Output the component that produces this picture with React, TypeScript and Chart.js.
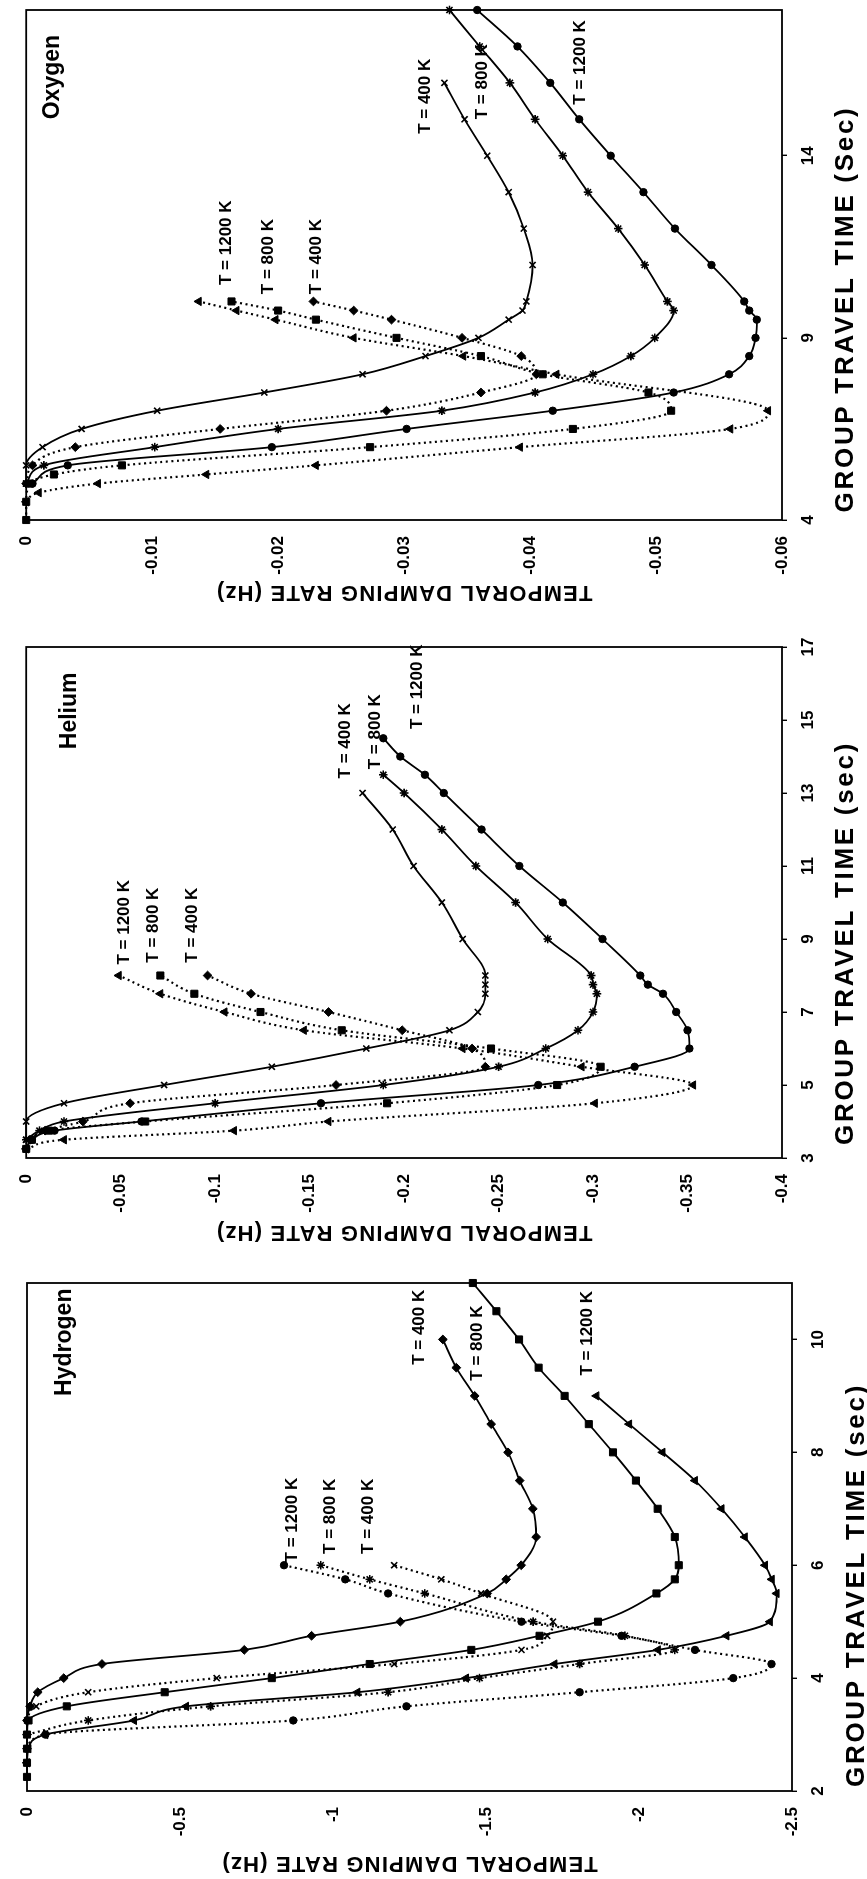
import React, { useEffect, useRef } from "react";
import { Chart, registerables } from "chart.js";
Chart.register(...registerables);

type Pt = [number, number];

// ---------------- Hydrogen ----------------
const hXTicks = [2, 4, 6, 8, 10];
const hYTicks = [0, -0.5, -1, -1.5, -2, -2.5];
const hSolid400: Pt[] = [[2.75, 0], [3, 0], [3.25, 0], [3.5, -0.01], [3.75, -0.035], [4, -0.12], [4.25, -0.245], [4.5, -0.71], [4.75, -0.93], [5, -1.22], [5.5, -1.504], [5.75, -1.566], [6, -1.615], [6.5, -1.664], [7, -1.653], [7.5, -1.61], [8, -1.572], [8.5, -1.517], [9, -1.463], [9.5, -1.403], [10, -1.359]];
const hSolid800: Pt[] = [[2.25, 0], [2.5, 0], [2.75, 0], [3, 0], [3.25, -0.005], [3.5, -0.13], [3.75, -0.45], [4, -0.8], [4.25, -1.12], [4.5, -1.452], [4.75, -1.675], [5, -1.866], [5.5, -2.057], [5.75, -2.117], [6, -2.13], [6.5, -2.117], [7, -2.061], [7.5, -1.99], [8, -1.915], [8.5, -1.836], [9, -1.757], [9.5, -1.672], [10, -1.608], [10.5, -1.534], [11, -1.457]];
const hSolid1200: Pt[] = [[2.5, 0], [2.75, -0.005], [3, -0.06], [3.25, -0.35], [3.5, -0.52], [3.75, -1.08], [4, -1.435], [4.25, -1.724], [4.5, -2.062], [4.75, -2.286], [5, -2.428], [5.5, -2.45], [5.75, -2.434], [6, -2.412], [6.5, -2.346], [7, -2.27], [7.5, -2.183], [8, -2.077], [8.5, -1.968], [9, -1.861]];
const hDot400: Pt[] = [[3.25, 0], [3.5, -0.03], [3.75, -0.2], [4, -0.62], [4.25, -1.2], [4.5, -1.616], [4.75, -1.7], [5, -1.719], [5.5, -1.484], [5.75, -1.354], [6, -1.2]];
const hDot800: Pt[] = [[3, 0], [3.25, -0.2], [3.5, -0.6], [3.75, -1.18], [4, -1.479], [4.25, -1.806], [4.5, -2.117], [4.75, -1.954], [5, -1.654], [5.5, -1.3], [5.75, -1.12], [6, -0.96]];
const hDot1200: Pt[] = [[2.75, 0], [3, -0.06], [3.25, -0.87], [3.5, -1.24], [3.75, -1.806], [4, -2.308], [4.25, -2.433], [4.5, -2.183], [4.75, -1.943], [5, -1.616], [5.5, -1.18], [5.75, -1.04], [6, -0.84]];
// label anchors (start x, centre y): solid 400/800/1200, dotted 400/800/1200
const hLabelAt: Pt[] = [[9.55, -1.283], [9.27, -1.47], [9.36, -1.83], [6.2, -1.116], [6.2, -0.99], [6.05, -0.867]];
const hNameAt: Pt = [9.0, -0.124];

// ---------------- Helium ----------------
const heXTicks = [3, 5, 7, 9, 11, 13, 15, 17];
const heYTicks = [0, -0.05, -0.1, -0.15, -0.2, -0.25, -0.3, -0.35, -0.4];
const heSolid400: Pt[] = [[3.5, 0], [4, 0], [4.5, -0.02], [5, -0.073], [5.5, -0.13], [6, -0.18], [6.5, -0.224], [7, -0.239], [7.5, -0.243], [7.75, -0.243], [8, -0.243], [9, -0.231], [10, -0.22], [11, -0.205], [12, -0.194], [13, -0.178]];
const heSolid800: Pt[] = [[3.5, 0], [3.75, -0.007], [4, -0.02], [4.5, -0.1], [5, -0.189], [5.5, -0.25], [6, -0.275], [6.5, -0.292], [7, -0.3], [7.5, -0.302], [7.75, -0.3], [8, -0.299], [9, -0.276], [10, -0.259], [11, -0.238], [12, -0.22], [13, -0.2], [13.5, -0.189]];
const heSolid1200: Pt[] = [[3.25, 0], [3.5, -0.003], [3.75, -0.015], [4, -0.061], [4.5, -0.156], [5, -0.271], [5.5, -0.322], [6, -0.351], [6.5, -0.35], [7, -0.344], [7.5, -0.337], [7.75, -0.329], [8, -0.325], [9, -0.305], [10, -0.284], [11, -0.261], [12, -0.241], [13, -0.221], [13.5, -0.211], [14, -0.198], [14.5, -0.189]];
const heDot400: Pt[] = [[3.5, -0.002], [3.75, -0.01], [4, -0.03], [4.5, -0.055], [5, -0.164], [5.5, -0.243], [6, -0.236], [6.5, -0.199], [7, -0.16], [7.5, -0.119], [8, -0.096]];
const heDot800: Pt[] = [[3.25, 0], [3.5, -0.003], [3.75, -0.012], [4, -0.063], [4.5, -0.191], [5, -0.281], [5.5, -0.304], [6, -0.246], [6.5, -0.167], [7, -0.124], [7.5, -0.089], [8, -0.071]];
const heDot1200: Pt[] = [[3.25, 0], [3.5, -0.02], [3.75, -0.11], [4, -0.16], [4.5, -0.301], [5, -0.353], [5.5, -0.294], [6, -0.231], [6.5, -0.147], [7, -0.105], [7.5, -0.071], [8, -0.049]];
const heLabelAt: Pt[] = [[13.4, -0.169], [13.65, -0.185], [14.75, -0.207], [8.35, -0.088], [8.35, -0.0675], [8.3, -0.052]];
const heNameAt: Pt = [14.2, -0.023];

// ---------------- Oxygen ----------------
const oXTicks = [4, 9, 14];
const oYTicks = [0, -0.01, -0.02, -0.03, -0.04, -0.05, -0.06];
const oSolid400: Pt[] = [[5, 0], [5.5, 0], [6, -0.0013], [6.5, -0.0044], [7, -0.0104], [7.5, -0.0189], [8, -0.0267], [8.5, -0.0317], [9, -0.0359], [9.5, -0.0383], [9.75, -0.0394], [10, -0.0397], [11, -0.0402], [12, -0.0395], [13, -0.0383], [14, -0.0366], [15, -0.0348], [16, -0.0332]];
const oSolid800: Pt[] = [[5, 0], [5.5, -0.0014], [6, -0.0102], [6.5, -0.02], [7, -0.033], [7.5, -0.0404], [8, -0.045], [8.5, -0.048], [9, -0.0499], [9.75, -0.0514], [10, -0.0509], [11, -0.0491], [12, -0.047], [13, -0.0446], [14, -0.0426], [15, -0.0404], [16, -0.0384], [17, -0.036], [18, -0.0336]];
const oSolid1200: Pt[] = [[5, -0.0005], [5.5, -0.0033], [6, -0.0195], [6.5, -0.0302], [7, -0.0418], [7.5, -0.0514], [8, -0.0558], [8.5, -0.0574], [9, -0.0579], [9.5, -0.058], [9.75, -0.0574], [10, -0.057], [11, -0.0544], [12, -0.0515], [13, -0.049], [14, -0.0464], [15, -0.0439], [16, -0.0416], [17, -0.039], [18, -0.0358]];
const oDot400: Pt[] = [[5, 0], [5.5, -0.0005], [6, -0.0039], [6.5, -0.0154], [7, -0.0286], [7.5, -0.0361], [8, -0.0405], [8.5, -0.0393], [9, -0.0346], [9.5, -0.029], [9.75, -0.026], [10, -0.0228]];
const oDot800: Pt[] = [[4, 0], [4.5, 0], [5, -0.0003], [5.25, -0.0022], [5.5, -0.0076], [6, -0.0273], [6.5, -0.0434], [7, -0.0512], [7.5, -0.0494], [8, -0.041], [8.5, -0.0361], [9, -0.0294], [9.5, -0.023], [9.75, -0.02], [10, -0.0163]];
const oDot1200: Pt[] = [[4.5, 0], [4.75, -0.001], [5, -0.0057], [5.25, -0.0143], [5.5, -0.023], [6, -0.0392], [6.5, -0.0559], [7, -0.0589], [8, -0.0421], [8.5, -0.0347], [9, -0.026], [9.5, -0.0198], [9.75, -0.0167], [10, -0.0137]];
const oLabelAt: Pt[] = [[14.6, -0.0317], [15.0, -0.0362], [15.4, -0.044], [10.2, -0.023], [10.2, -0.0192], [10.45, -0.0159]];
const oNameAt: Pt = [15.0, -0.0021];

// ---------------- texts ----------------
const PANEL_NAMES = ["Hydrogen", "Helium", "Oxygen"];
const X_TITLES = ["GROUP TRAVEL TIME (sec)", "GROUP TRAVEL TIME (sec)", "GROUP TRAVEL TIME (Sec)"];
const Y_TITLE = "TEMPORAL DAMPING RATE (Hz)";
const T_LABELS = ["T = 400 K", "T = 800 K", "T = 1200 K", "T = 400 K", "T = 800 K", "T = 1200 K"];

const FONT = '"Liberation Sans", Arial, Helvetica, sans-serif';
const H = 867;

type Marker = "rectRot" | "rect" | "triangle" | "crossRot" | "star" | "circle";

interface PanelCfg {
  name: string;
  xTitle: string;
  left: number;
  width: number;
  area: { left: number; right: number; top: number; bottom: number };
  xMin: number; xMax: number; yMin: number;
  xTicks: number[]; yTicks: number[];
  series: Pt[][];
  markers: Marker[];
  labelAt: Pt[];
  nameAt: Pt;
  xTitleX: number; xTitleY: number; yTitleX: number;
}

const heavyMarkers: Marker[] = ["crossRot", "star", "circle", "rectRot", "rect", "triangle"];

const PANELS: PanelCfg[] = [
  {
    name: PANEL_NAMES[0], xTitle: X_TITLES[0], left: 0, width: 633,
    area: { left: 88, right: 596, top: 27, bottom: 792 },
    xMin: 2, xMax: 11, yMin: -2.5, xTicks: hXTicks, yTicks: hYTicks,
    series: [hSolid400, hSolid800, hSolid1200, hDot400, hDot800, hDot1200],
    markers: ["rectRot", "rect", "triangle", "crossRot", "star", "circle"],
    labelAt: hLabelAt, nameAt: hNameAt, xTitleX: 294, xTitleY: 857, yTitleX: 16,
  },
  {
    name: PANEL_NAMES[1], xTitle: X_TITLES[1], left: 633, width: 633,
    area: { left: 88, right: 599, top: 20, bottom: 782 },
    xMin: 3, xMax: 17, yMin: -0.4, xTicks: heXTicks, yTicks: heYTicks,
    series: [heSolid400, heSolid800, heSolid1200, heDot400, heDot800, heDot1200],
    markers: heavyMarkers,
    labelAt: heLabelAt, nameAt: heNameAt, xTitleX: 303, xTitleY: 846, yTitleX: 14,
  },
  {
    name: PANEL_NAMES[2], xTitle: X_TITLES[2], left: 1271, width: 608,
    area: { left: 88, right: 598, top: 16, bottom: 782 },
    xMin: 4, xMax: 18, yMin: -0.06, xTicks: oXTicks, yTicks: oYTicks,
    series: [oSolid400, oSolid800, oSolid1200, oDot400, oDot800, oDot1200],
    markers: heavyMarkers,
    labelAt: oLabelAt, nameAt: oNameAt, xTitleX: 299, xTitleY: 846, yTitleX: 16,
  },
];

function markerRadius(m: Marker): number {
  switch (m) {
    case "circle": return 3.7;
    case "rect": return 5;
    case "rectRot": return 4.4;
    case "triangle": return 4.8;
    default: return 4.3;
  }
}

function Panel({ cfg }: { cfg: PanelCfg }) {
  const ref = useRef<HTMLCanvasElement>(null);
  useEffect(() => {
    const canvas = ref.current!;
    const textPlugin = {
      id: "panelText",
      afterDraw(chart: any) {
        const ctx: CanvasRenderingContext2D = chart.ctx;
        const a = chart.chartArea;
        const xs = chart.scales.x;
        const ys = chart.scales.y;
        ctx.save();
        // frame
        ctx.strokeStyle = "#000";
        ctx.lineWidth = 1.8;
        ctx.strokeRect(a.left, a.top, a.right - a.left, a.bottom - a.top);
        ctx.fillStyle = "#000";
        // series labels
        ctx.font = `bold 17px ${FONT}`;
        ctx.textAlign = "left";
        ctx.textBaseline = "middle";
        cfg.labelAt.forEach(([x, y], i) => {
          ctx.fillText(T_LABELS[i], xs.getPixelForValue(x), ys.getPixelForValue(y));
        });
        // panel name
        ctx.font = `bold 23px ${FONT}`;
        ctx.fillText(cfg.name, xs.getPixelForValue(cfg.nameAt[0]), ys.getPixelForValue(cfg.nameAt[1]));
        // x title
        ctx.textAlign = "center";
        ctx.font = `bold 26px ${FONT}`;
        (ctx as any).letterSpacing = "2.7px";
        ctx.fillText(cfg.xTitle, cfg.xTitleX, cfg.xTitleY);
        // y title
        ctx.font = `bold 22px ${FONT}`;
        (ctx as any).letterSpacing = "1.2px";
        ctx.translate(cfg.yTitleX, (a.top + a.bottom) / 2);
        ctx.rotate(-Math.PI / 2);
        ctx.fillText(Y_TITLE, 0, 0);
        ctx.restore();
      },
    };

    const chart = new Chart(canvas, {
      type: "line",
      data: {
        datasets: cfg.series.map((pts, i) => {
          const dotted = i >= 3;
          const m = cfg.markers[i];
          return {
            data: pts.map(([x, y]) => ({ x, y })),
            borderColor: "#000",
            backgroundColor: "#000",
            borderWidth: dotted ? 2.2 : 1.8,
            borderDash: dotted ? [2, 3.5] : [],
            cubicInterpolationMode: "monotone",
            pointStyle: m,
            pointRadius: markerRadius(m),
            pointBorderColor: "#000",
            pointBackgroundColor: "#000",
            pointBorderWidth: m === "crossRot" || m === "star" ? 1.6 : 1,
            fill: false,
            clip: 6,
          } as any;
        }),
      },
      options: {
        animation: false,
        responsive: false,
        devicePixelRatio: 1,
        layout: { padding: { left: 0, top: cfg.area.top, right: cfg.width - cfg.area.right, bottom: 0 } },
        plugins: { legend: { display: false }, tooltip: { enabled: false } },
        scales: {
          x: {
            type: "linear",
            min: cfg.xMin,
            max: cfg.xMax,
            afterBuildTicks: (s: any) => { s.ticks = cfg.xTicks.map((v) => ({ value: v })); },
            afterFit: (s: any) => { s.height = H - cfg.area.bottom; },
            grid: { display: true, drawOnChartArea: false, drawTicks: true, tickLength: 5, color: "#000", lineWidth: 1.4 },
            border: { display: false },
            ticks: { color: "#000", font: { family: FONT, size: 17, weight: "bold" }, padding: 11, maxRotation: 0, autoSkip: false, callback: (v: any) => String(v) },
          },
          y: {
            type: "linear",
            min: cfg.yMin,
            max: 0,
            afterBuildTicks: (s: any) => { s.ticks = cfg.yTicks.map((v) => ({ value: v })); },
            afterFit: (s: any) => { s.width = cfg.area.left; },
            grid: { display: false, drawTicks: false },
            border: { display: false },
            ticks: { color: "#000", font: { family: FONT, size: 17, weight: "bold" }, padding: 16, autoSkip: false, callback: (v: any) => String(v) },
          },
        },
      } as any,
      plugins: [textPlugin],
    });
    return () => chart.destroy();
  }, [cfg]);
  return (
    <canvas
      ref={ref}
      width={cfg.width}
      height={H}
      style={{ position: "absolute", left: cfg.left, top: 0, width: cfg.width, height: H }}
    />
  );
}

export default function App() {
  return (
    <div
      style={{
        position: "fixed",
        left: 0,
        top: 0,
        width: 1879,
        height: H,
        background: "#fff",
        transformOrigin: "0 0",
        transform: "translate(0px, 1879px) rotate(-90deg)",
      }}
    >
      {PANELS.map((p) => (
        <Panel key={p.name} cfg={p} />
      ))}
    </div>
  );
}
